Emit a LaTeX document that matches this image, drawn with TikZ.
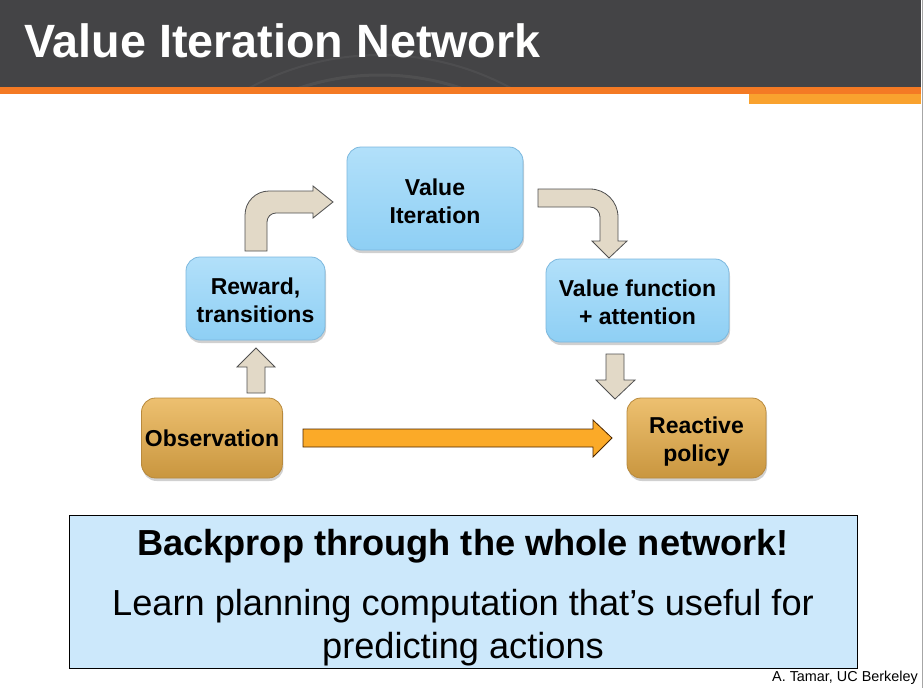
\documentclass[tikz,border=0pt]{standalone}
\usepackage{fontspec}
\setmainfont{Liberation Sans}
\usetikzlibrary{shadows}
\definecolor{hdr}{HTML}{444446}
\definecolor{orA}{HTML}{F47A24}
\definecolor{orB}{HTML}{F9A22E}
\definecolor{blueT}{HTML}{B2E0FA}
\definecolor{blueB}{HTML}{8ECFF4}
\definecolor{blueE}{HTML}{7CB8DE}
\definecolor{goldT}{HTML}{EDC070}
\definecolor{goldB}{HTML}{C9963F}
\definecolor{goldE}{HTML}{B8893C}
\definecolor{beige}{HTML}{E2D9C7}
\definecolor{arrE}{HTML}{505050}
\definecolor{orArr}{HTML}{FBAA28}
\definecolor{boxBlue}{HTML}{CCE8FB}
\tikzset{
  bluebox/.style={rectangle, rounded corners=14pt, draw=blueE, line width=0.8pt,
    top color=blueT, bottom color=blueB, align=center,
    font=\fontsize{23}{28}\selectfont\bfseries,
    drop shadow={shadow xshift=1pt, shadow yshift=-3pt, opacity=0.3, fill=black!60}},
  goldbox/.style={rectangle, rounded corners=14pt, draw=goldE, line width=0.8pt,
    top color=goldT, bottom color=goldB, align=center,
    font=\fontsize{23}{28}\selectfont\bfseries,
    drop shadow={shadow xshift=1pt, shadow yshift=-3pt, opacity=0.3, fill=black!60}},
  boxtext/.style={align=center, font=\fontsize{23}{28}\selectfont\bfseries},
  blockarrow/.style={fill=beige, draw=arrE, line width=0.8pt, line join=miter},
}
\begin{document}
\begin{tikzpicture}[x=1pt,y=-1pt]
\useasboundingbox (0,0) rectangle (924,688);
\fill[white] (0,0) rectangle (924,688);
% header
\fill[hdr] (0,0) rectangle (921,88);
\begin{scope}
\clip (0,0) rectangle (921,88);
\draw[white, opacity=0.06, line width=3pt] (380,330) circle (255);
\draw[white, opacity=0.05, line width=2pt] (380,330) circle (275);
\end{scope}
\fill[orA] (0,87) rectangle (921,94);
\fill[orB] (749,94) rectangle (921,104);
\draw[black!35, line width=1pt] (922,0) -- (922,688);
\node[anchor=base west, inner sep=0pt, text=white, font=\fontsize{46.7}{50}\selectfont\bfseries] (title) at (24,57) {Value Iteration Network};

% nodes
\node[bluebox, minimum width=176pt, minimum height=103pt] (vi) at (435,198.5) {};
\node[boxtext] (vit) at (435,201) {Value\\Iteration};
\node[bluebox, minimum width=139pt, minimum height=83pt] (rt) at (255.5,298.5) {};
\node[boxtext] (rtt) at (255.5,300) {Reward,\\transitions};
\node[bluebox, minimum width=183pt, minimum height=83pt] (vf) at (637.5,300.5) {};
\node[boxtext] (vft) at (637.5,302) {Value function\\+ attention};
\node[goldbox, minimum width=140pt, minimum height=80pt] (ob) at (212,438) {Observation};
\node[goldbox, minimum width=139pt, minimum height=80pt] (rp) at (696.5,438) {};
\node[boxtext] (rpt) at (696.5,441.5) {Reactive\\policy};

% up arrow observation -> reward
\draw[blockarrow] (247,393) -- (247,367) -- (237,367) -- (256,348) -- (275,367) -- (265,367) -- (265,393) -- cycle;
% bent arrow reward -> value iteration
\draw[blockarrow] (245,251) -- (245,215) arc (180:270:24) -- (313,191) -- (313,186) -- (333,202) -- (313,218) -- (313,213) -- (276,213) arc (270:180:9) -- (267,251) -- cycle;
% bent arrow value iteration -> value function
\draw[blockarrow] (538,189) -- (590,189) arc (-90:0:28) -- (618,241) -- (627,241) -- (609,258) -- (592,241) -- (600,241) -- (600,217) arc (0:-90:10) -- (538,207) -- cycle;
% down arrow value function -> reactive policy
\draw[blockarrow] (606,354) -- (624,354) -- (624,380) -- (635,380) -- (615,399) -- (596,380) -- (606,380) -- cycle;
% orange arrow observation -> reactive policy
\draw[fill=orArr, draw=black!70!orange, line width=0.8pt] (303,429) -- (593,429) -- (593,420) -- (612,438) -- (593,457) -- (593,447) -- (303,447) -- cycle;

% bottom box
\draw[fill=boxBlue, draw=black, line width=0.9pt] (69,515) rectangle (857,668);
\node[font=\fontsize{36.2}{40}\selectfont\bfseries] (bp) at (463,546) {Backprop through the whole network!};
\node[align=center, font=\fontsize{36.2}{43}\selectfont] (lp) at (463,628) {Learn planning computation that’s useful for\\predicting actions};
\node[anchor=base east, inner sep=0pt, font=\fontsize{14.4}{16}\selectfont] (cr) at (918,681) {A. Tamar, UC Berkeley};
\end{tikzpicture}
\end{document}
